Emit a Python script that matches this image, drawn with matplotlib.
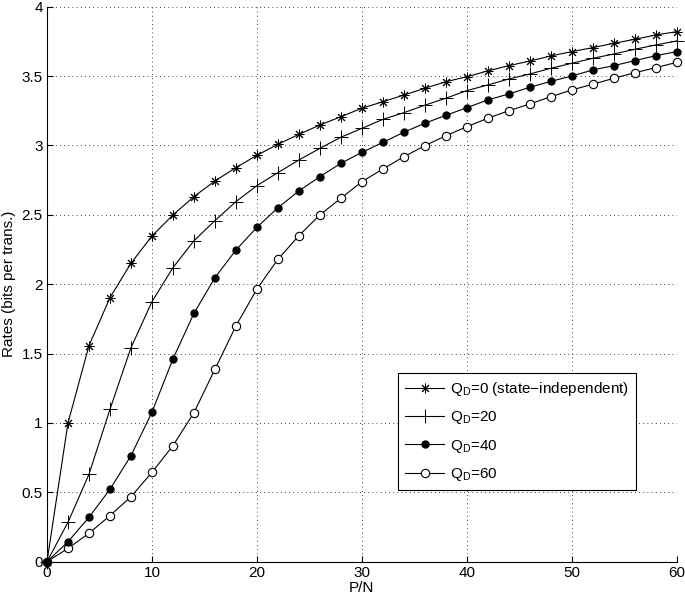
import numpy as np
import matplotlib
matplotlib.use("Agg")
import matplotlib.pyplot as plt

plt.rcParams['font.family'] = ['Liberation Sans', 'DejaVu Sans']

pn = np.arange(0, 61, 2)
r_q0 = [0, 1.00, 1.557, 1.903, 2.151, 2.347, 2.499, 2.631, 2.744, 2.84, 2.929,
        3.008, 3.08, 3.147, 3.207, 3.268, 3.315, 3.363, 3.412, 3.459, 3.495,
        3.537, 3.575, 3.608, 3.645, 3.676, 3.705, 3.736, 3.765, 3.796, 3.82]
r_q20 = [0, 0.284, 0.63, 1.098, 1.542, 1.874, 2.119, 2.313, 2.458, 2.595, 2.71,
         2.804, 2.895, 2.979, 3.059, 3.123, 3.188, 3.236, 3.29, 3.34, 3.395,
         3.436, 3.479, 3.515, 3.556, 3.592, 3.628, 3.659, 3.693, 3.724, 3.753]
r_q40 = [0, 0.144, 0.32, 0.522, 0.764, 1.077, 1.461, 1.79, 2.047, 2.246, 2.41,
         2.551, 2.672, 2.775, 2.871, 2.95, 3.022, 3.095, 3.16, 3.217, 3.272,
         3.328, 3.371, 3.419, 3.462, 3.5, 3.544, 3.575, 3.611, 3.647, 3.676]
r_q60 = [0, 0.096, 0.205, 0.332, 0.468, 0.644, 0.836, 1.074, 1.387, 1.699, 1.965,
         2.179, 2.35, 2.499, 2.619, 2.739, 2.83, 2.919, 2.998, 3.07, 3.135,
         3.196, 3.25, 3.299, 3.351, 3.4, 3.441, 3.484, 3.524, 3.56, 3.599]
labels = ["Q$_\\mathregular{D}$=0 (state\u2212independent)", "Q$_\\mathregular{D}$=20",
          "Q$_\\mathregular{D}$=40", "Q$_\\mathregular{D}$=60"]

fig = plt.figure(figsize=(6.85, 6.01), dpi=100)
ax = fig.add_axes([0.0686, 0.0654, 0.9194, 0.9235])

kw = dict(color="black", lw=0.8, clip_on=False)
ax.plot(pn, r_q0, marker=(8, 2, 0), ms=7, mew=0.7, label=labels[0], **kw)
ax.plot(pn, r_q20, marker="+", ms=10, mew=0.7, label=labels[1], **kw)
ax.plot(pn, r_q60, marker="o", ms=6, mfc="white", mec="black", mew=0.8, label=labels[3], **kw)
ax.plot(pn, r_q40, marker="o", ms=5, mfc="black", mec="black", label=labels[2], **kw)

ax.set_xlim(0, 60)
ax.set_ylim(0, 4)
ax.set_xticks(np.arange(0, 61, 10))
ax.set_yticks(np.arange(0, 4.01, 0.5))
ax.set_yticklabels(["0", "0.5", "1", "1.5", "2", "2.5", "3", "3.5", "4"])
ax.grid(True, linestyle=(0, (1, 4)), color="black", lw=0.6)
for s in ("top", "right"):
    ax.spines[s].set_visible(False)
ax.tick_params(direction="in", length=4, labelsize=11, pad=3)
ax.set_xlabel("P/N", fontsize=11, labelpad=1)
ax.set_ylabel("Rates (bits per trans.)", fontsize=11, labelpad=4)

h, l = ax.get_legend_handles_labels()
order = [0, 1, 3, 2]
leg = ax.legend([h[i] for i in order], [l[i] for i in order],
                loc="upper left", bbox_to_anchor=(0.557, 0.34), borderaxespad=0,
                fontsize=11, fancybox=False, framealpha=1, edgecolor="black",
                handlelength=2.6, labelspacing=0.75, borderpad=0.45, handletextpad=0.4)
leg.get_frame().set_linewidth(0.8)

fig.savefig("out.png", dpi=100)
